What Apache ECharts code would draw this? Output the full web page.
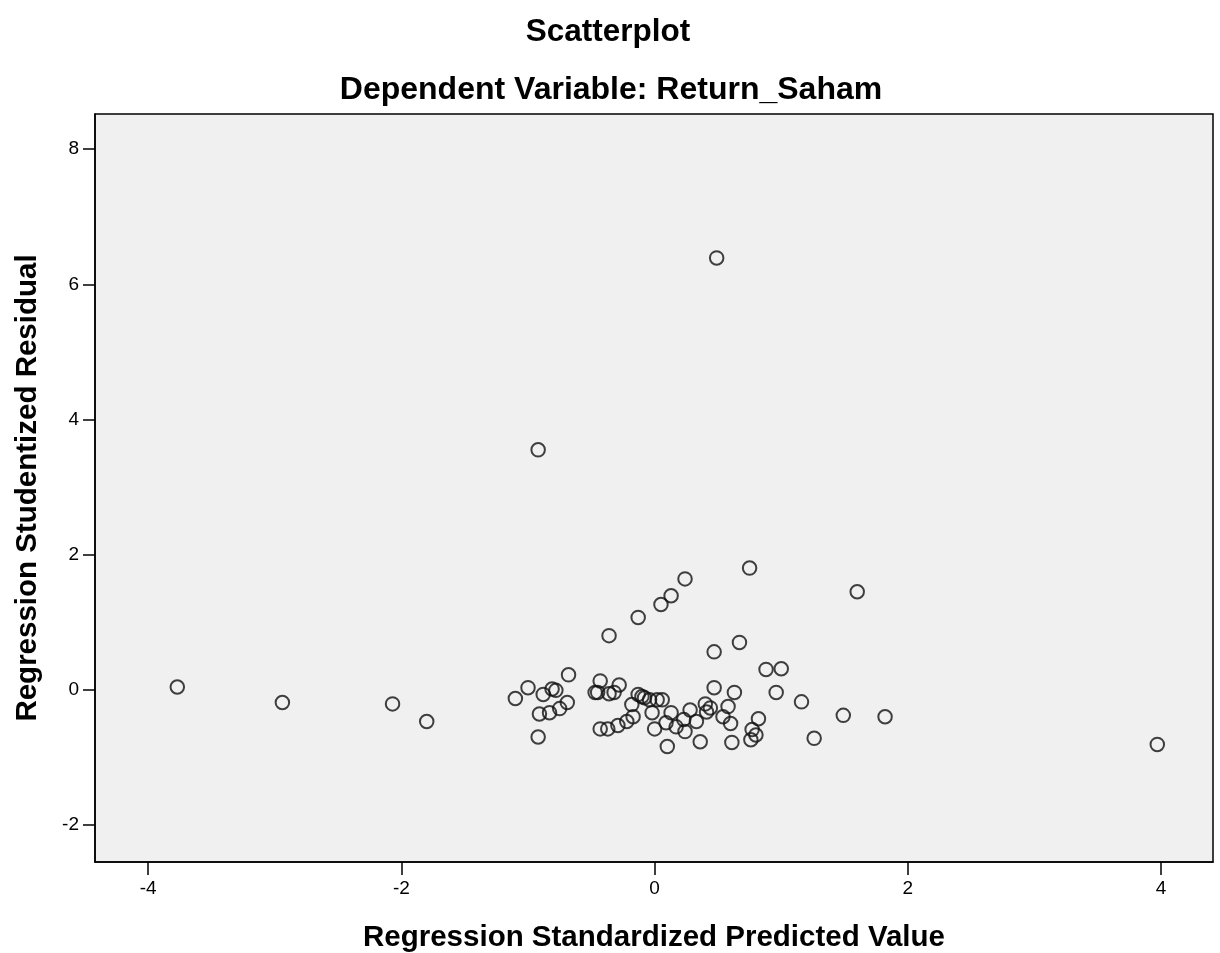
<!DOCTYPE html>
<html>
<head>
<meta charset="utf-8">
<script src="https://cdn.jsdelivr.net/npm/echarts@6/dist/echarts.min.js"></script>
<style>
html,body{margin:0;padding:0;background:#fff;}
#chart{width:1220px;height:953px;}
</style>
</head>
<body>
<div id="chart"></div>
<script>
// Regression Standardized Predicted Value (x)
const predicted = [
  0.49, -0.92, -3.77, -2.94, -2.07, -1.80, 3.97, 1.60, 0.75, 0.24, 0.13, 0.05,
  -0.13, -0.36, 0.47, 0.67, 0.88, 1.00, 0.96, 1.16, 1.49, 1.82, 1.26, 0.47,
  -0.68, -1.00, -1.10, -0.88, -0.81, -0.78, -0.69, -0.75, -0.83, -0.91, -0.92,
  -0.43, -0.28, -0.47, -0.45, -0.36, -0.32, -0.43, -0.37, -0.29, -0.22, -0.17,
  -0.18, -0.13, -0.10, -0.08, -0.04, 0.02, 0.06, -0.02, 0.00, 0.10, 0.13, 0.09,
  0.17, 0.23, 0.24, 0.28, 0.33, 0.40, 0.44, 0.41, 0.54, 0.58, 0.60, 0.63, 0.36,
  0.61, 0.77, 0.80, 0.76, 0.82
];
// Regression Studentized Residual (y)
const residual = [
  6.39, 3.55, 0.04, -0.19, -0.21, -0.47, -0.81, 1.45, 1.80, 1.64, 1.39, 1.26,
  1.07, 0.80, 0.56, 0.70, 0.30, 0.31, -0.04, -0.18, -0.38, -0.40, -0.72, 0.03,
  0.22, 0.03, -0.13, -0.07, 0.01, -0.01, -0.19, -0.28, -0.34, -0.36, -0.70,
  0.13, 0.07, -0.04, -0.04, -0.06, -0.04, -0.58, -0.58, -0.53, -0.47, -0.40,
  -0.22, -0.07, -0.10, -0.12, -0.15, -0.15, -0.15, -0.34, -0.58, -0.84, -0.34, -0.49,
  -0.55, -0.44, -0.62, -0.30, -0.47, -0.21, -0.27, -0.33, -0.40, -0.25, -0.50, -0.04, -0.77,
  -0.78, -0.59, -0.67, -0.74, -0.43
];
const xTicks = [-4, -2, 0, 2, 4];
const yTicks = [-2, 0, 2, 4, 6, 8];

const points = predicted.map((v, i) => [v, residual[i]]);
const FONT = "'Liberation Sans', Arial, sans-serif";

const chart = echarts.init(document.getElementById('chart'), null, {renderer: 'canvas'});
chart.setOption({
  animation: false,
  backgroundColor: '#ffffff',
  title: [
    {text: 'Scatterplot', left: 603, top: 11, textAlign: 'center',
     textStyle: {fontFamily: FONT, fontWeight: 'bold', fontSize: 31.5, color: '#000'}},
    {text: 'Dependent Variable: Return_Saham', left: 606, top: 69, textAlign: 'center',
     textStyle: {fontFamily: FONT, fontWeight: 'bold', fontSize: 32, color: '#000'}}
  ],
  grid: {
    left: 95, right: 7, top: 114, bottom: 91,
    outerBoundsMode: 'none', containLabel: false,
    show: true, backgroundColor: '#f0f0f0', borderColor: '#000', borderWidth: 1.5
  },
  xAxis: {
    type: 'value', min: -4.42, max: 4.41,
    name: 'Regression Standardized Predicted Value',
    nameLocation: 'middle', nameGap: 61,
    nameTextStyle: {fontFamily: FONT, fontWeight: 'bold', fontSize: 29.5, color: '#000'},
    axisLine: {show: true, onZero: false, lineStyle: {color: '#000', width: 1.5}},
    axisTick: {show: true, length: 13, customValues: xTicks, lineStyle: {color: '#000', width: 1.5}},
    axisLabel: {show: true, customValues: xTicks, margin: 17,
      fontFamily: FONT, fontSize: 19, color: '#000'},
    splitLine: {show: false}
  },
  yAxis: {
    type: 'value', min: -2.55, max: 8.52,
    name: 'Regression Studentized Residual',
    nameLocation: 'middle', nameGap: 52,
    nameTextStyle: {fontFamily: FONT, fontWeight: 'bold', fontSize: 29.5, color: '#000'},
    axisLine: {show: true, onZero: false, lineStyle: {color: '#000', width: 1.5}},
    axisTick: {show: true, length: 12, customValues: yTicks, lineStyle: {color: '#000', width: 1.5}},
    axisLabel: {show: true, customValues: yTicks, margin: 16,
      fontFamily: FONT, fontSize: 19, color: '#000'},
    splitLine: {show: false}
  },
  series: [{
    type: 'scatter',
    data: points,
    symbol: 'circle',
    symbolSize: 13.5,
    itemStyle: {color: 'rgba(0,0,0,0)', borderColor: '#111', borderWidth: 2},
    emphasis: {disabled: true}
  }]
});
</script>
</body>
</html>
